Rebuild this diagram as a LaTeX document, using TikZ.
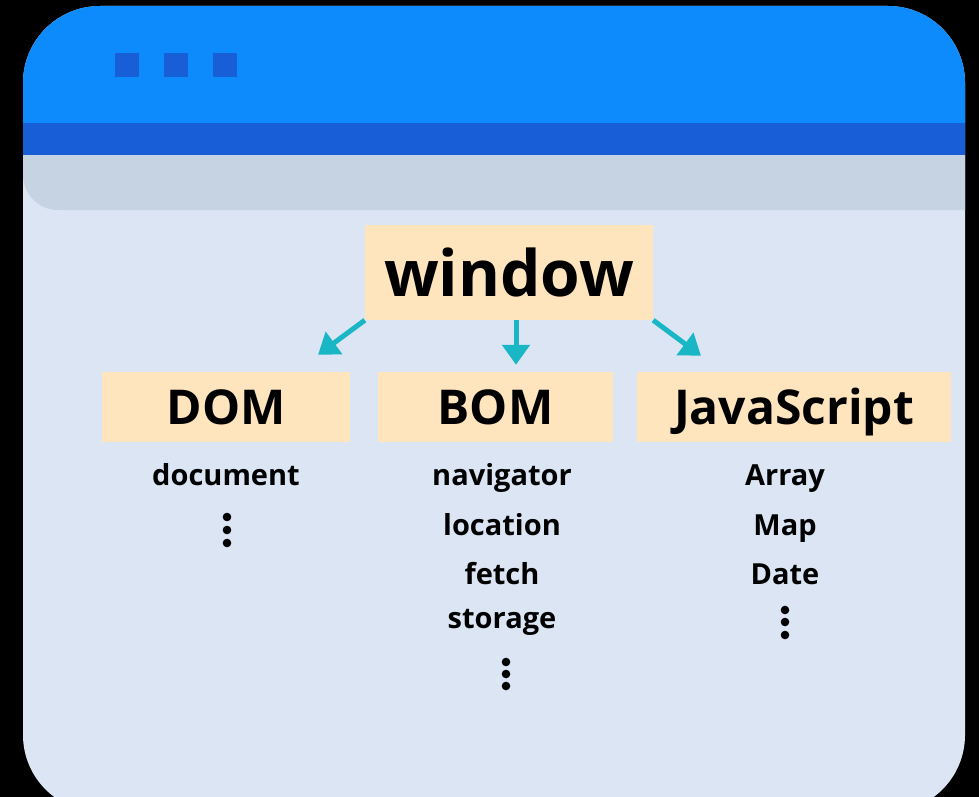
\documentclass[tikz,border=0pt]{standalone}
\usepackage{fontspec}
\setmainfont{Open Sans}
\usetikzlibrary{arrows.meta,calc}
\definecolor{topblue}{HTML}{0D8BFC}
\definecolor{barblue}{HTML}{185ED6}
\definecolor{tabgray}{HTML}{C6D3E2}
\definecolor{pagebg}{HTML}{DBE5F4}
\definecolor{boxfill}{HTML}{FEE5BE}
\definecolor{arrowteal}{HTML}{19B6C6}
\tikzset{
  box/.style={fill=boxfill, inner sep=0pt, minimum height=70pt, text height=34pt, text depth=0pt, font=\fontsize{48}{50}\selectfont\bfseries},
  item/.style={anchor=base, font=\fontsize{29}{30}\selectfont\bfseries},
  link/.style={arrowteal, line width=5pt, -{Triangle[length=20pt,width=27pt]}},
}
\begin{document}
\begin{tikzpicture}[x=1pt,y=-1pt]
  \useasboundingbox (0,0) rectangle (979,797);
  \fill[black] (0,0) rectangle (979,797);
  \begin{scope}
    \clip[rounded corners=77pt] (23,6) rectangle (965,812);
    \fill[pagebg] (0,0) rectangle (979,812);
    \fill[topblue] (0,0) rectangle (979,123);
    \fill[barblue] (0,123) rectangle (979,155);
    \fill[tabgray] (979,155) -- (979,210) -- (58,210) arc[start angle=90,end angle=180,radius=35] -- (23,155) -- cycle;
  \end{scope}
  \foreach \x in {115,164,213} \fill[barblue] (\x,53) rectangle ++(24,24);

  \node[box, minimum width=288pt, minimum height=95pt, text height=48pt, font=\fontsize{64}{70}\selectfont\bfseries] (win) at (509,272.5) {window};
  \node[box, minimum width=248pt] (dom) at (226,407) {DOM};
  \node[box, minimum width=235pt] (bom) at (495.5,407) {BOM};
  \node[box, minimum width=314pt] (js) at (794,407) {JavaScript};

  \coordinate (tipD) at ($(dom.north)+(92,-17)$);
  \coordinate (tipB) at ($(bom.north)+(20.5,-7)$);
  \coordinate (tipJ) at ($(js.north)+(-93,-16)$);
  \draw[link] (win.south west) -- (tipD);
  \draw[link] ($(win.south)+(7,0)$) -- (tipB);
  \draw[link] (win.south east) -- (tipJ);

  \node[item] (doc) at (226,485) {document};
  \foreach \y in {517,530,543} \fill (227,\y) circle (4.3pt);

  \node[item] (nav) at (502,485) {navigator};
  \node[item] (loc) at (502,535) {location};
  \node[item] (fetch) at (502,584) {fetch};
  \node[item] (store) at (502,628) {storage};
  \foreach \y in {662,674,686} \fill (506,\y) circle (4.3pt);

  \node[item] (arr) at (785,485) {Array};
  \node[item] (map) at (785,535) {Map};
  \node[item] (date) at (785,584) {Date};
  \foreach \y in {610,622,635} \fill (785,\y) circle (4.3pt);
\end{tikzpicture}
\end{document}
